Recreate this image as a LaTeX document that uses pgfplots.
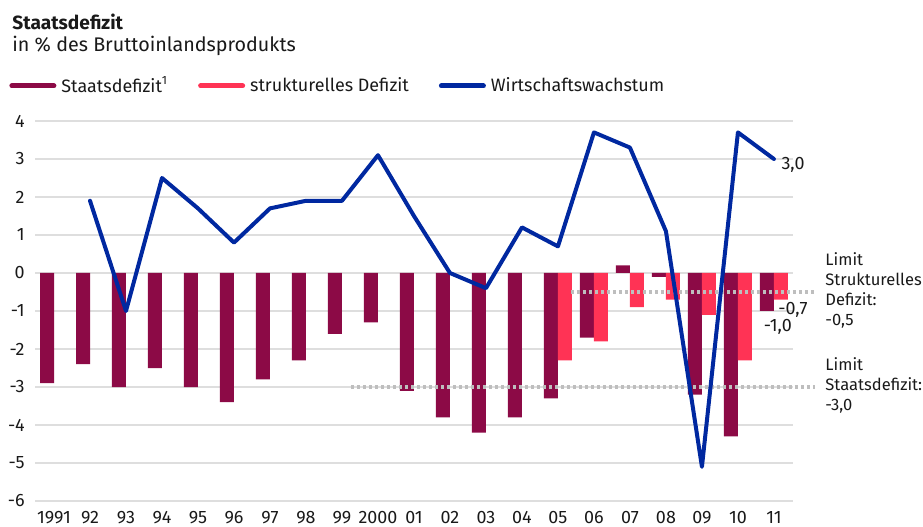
\documentclass[border=0pt]{standalone}
\usepackage{pgfplots}
\pgfplotsset{compat=1.18}
\usepackage{fontspec}
\setmainfont{Fira Sans}

\definecolor{staats}{RGB}{140,10,70}
\definecolor{strukt}{RGB}{255,51,85}
\definecolor{wachs}{RGB}{0,40,160}
\definecolor{gridgray}{RGB}{222,222,222}
\definecolor{limitgray}{RGB}{190,190,190}
\definecolor{txt}{RGB}{25,25,25}

\begin{document}
\begin{tikzpicture}[font=\fontsize{9}{10.5}\selectfont, text=txt]
\useasboundingbox (0,0) rectangle (461.5bp,-263.5bp);
% title
\node[anchor=west, inner sep=0pt, font=\fontsize{9.6}{11}\selectfont\bfseries] at (6bp,-11bp) {Staatsdefizit};
\node[anchor=west, inner sep=0pt, font=\fontsize{9.9}{11}\selectfont] at (6bp,-23bp) {in \% des Bruttoinlandsprodukts};

\begin{axis}[
    at={(17.5bp,-250.5bp)}, anchor=south west,
    scale only axis,
    width=379bp, height=190bp,
    xmin=-0.528, xmax=20.53,
    ymin=-6, ymax=4,
    clip=false,
    axis line style={draw=none},
    major tick length=0pt,
    ymajorgrids=true,
    major grid style={draw=gridgray, line width=1bp},
    ytick={-6,-5,...,4},
    xtick={0,1,...,20},
    xticklabels={1991,92,93,94,95,96,97,98,99,2000,01,02,03,04,05,06,07,08,09,10,11},
    /pgf/number format/assume math mode=true,
    yticklabel style={anchor=east, inner sep=0pt, xshift=-5bp},
    xticklabel style={anchor=base, inner sep=0pt, yshift=-11bp},
    legend style={at={(0,1)}, anchor=west, xshift=-13bp, yshift=17.5bp,
      draw=none, fill=none, inner sep=0pt, legend columns=3,
      nodes={inner sep=0pt},
      /tikz/every odd column/.append style={column sep=2.5bp},
      /tikz/every even column/.append style={column sep=15bp}},
    legend cell align=left,
    legend image code/.code={\draw[#1] (0bp,0bp) -- (21bp,0bp);},
  ]
  \addlegendimage{draw=staats, line width=2.5bp, line cap=round}
  \addlegendimage{draw=strukt, line width=2.5bp, line cap=round}
  \addlegendimage{draw=wachs, line width=2.5bp, line cap=round}

  % Staatsdefizit
  \addplot[forget plot, ybar, bar width=7bp, bar shift=-3.5bp, fill=staats, draw=none] coordinates {
    (0,-2.9) (1,-2.4) (2,-3.0) (3,-2.5) (4,-3.0) (5,-3.4) (6,-2.8) (7,-2.3) (8,-1.6) (9,-1.3)
    (10,-3.1) (11,-3.8) (12,-4.2) (13,-3.8) (14,-3.3) (15,-1.7) (16,0.2) (17,-0.1) (18,-3.2) (19,-4.3) (20,-1.0)};
  % strukturelles Defizit
  \addplot[forget plot, ybar, bar width=7bp, bar shift=3.5bp, fill=strukt, draw=none] coordinates {
    (14,-2.3) (15,-1.8) (16,-0.9) (17,-0.7) (18,-1.1) (19,-2.3) (20,-0.7)};

  % limits
  \addplot[forget plot, draw=limitgray, line width=1.75bp, dash pattern=on 1.75bp off 1.25bp] coordinates {(14.36,-0.5) (21.14,-0.5)};
  \addplot[forget plot, draw=limitgray, line width=1.75bp, dash pattern=on 1.75bp off 1.25bp] coordinates {(8.25,-3.0) (21.14,-3.0)};

  % Wirtschaftswachstum
  \addplot[forget plot, sharp plot, draw=wachs, line width=2bp, line join=round, line cap=round] coordinates {
    (1,1.9) (2,-1.0) (3,2.5) (4,1.7) (5,0.8) (6,1.7) (7,1.9) (8,1.9) (9,3.1) (10,1.5)
    (11,0.0) (12,-0.4) (13,1.2) (14,0.7) (15,3.7) (16,3.3) (17,1.1) (18,-5.1) (19,3.7) (20,3.0)};

  \legend{Staatsdefizit\textsuperscript{1}, strukturelles Defizit, Wirtschaftswachstum}

  \node[anchor=west, inner sep=0pt] at (axis cs:20.2,2.85) {3,0};
  \node[inner sep=0pt] at (axis cs:20.53,-0.97) {-0,7};
  \node[inner sep=0pt] at (axis cs:20.11,-1.42) {-1,0};
  \node[anchor=north west, inner sep=0pt, align=left, font=\fontsize{8.3}{10}\selectfont] at (axis cs:21.42,0.55) {Limit\\Strukturelles\\Defizit:\\-0,5};
  \node[anchor=north west, inner sep=0pt, align=left, font=\fontsize{8.3}{10}\selectfont] at (axis cs:21.42,-2.21) {Limit\\Staatsdefizit:\\-3,0};
\end{axis}
\end{tikzpicture}
\end{document}
